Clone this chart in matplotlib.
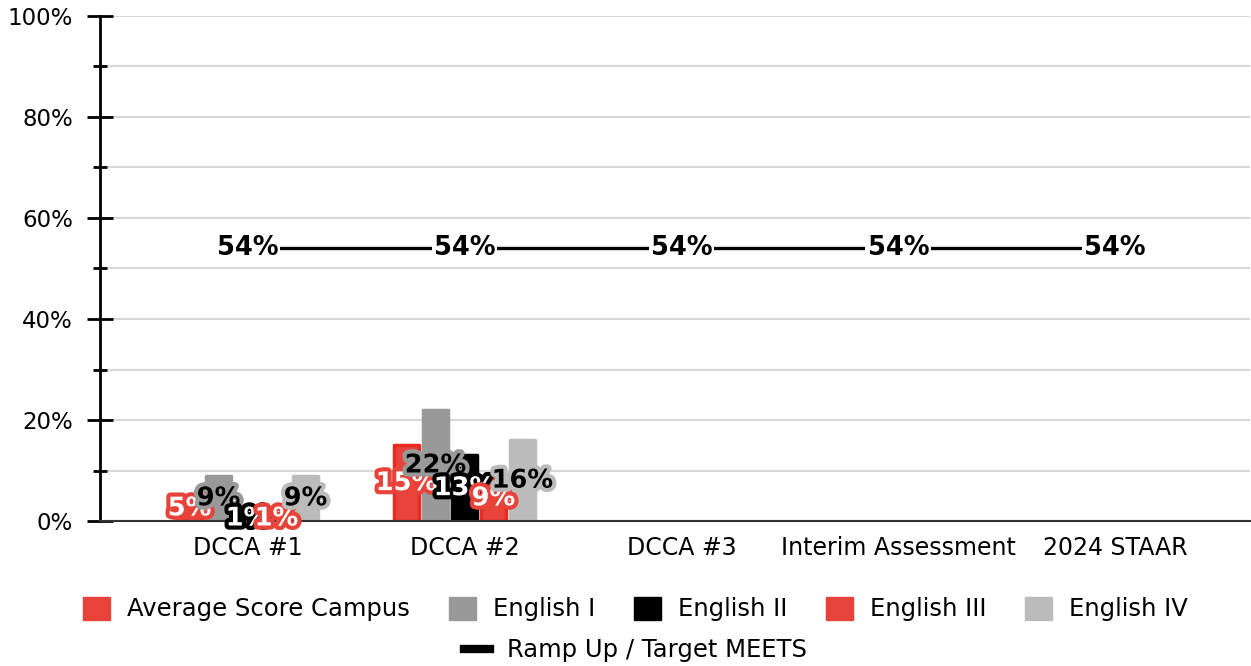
import numpy as np
import matplotlib
matplotlib.use("Agg")
import matplotlib.pyplot as plt
import matplotlib.patheffects as pe
from matplotlib.lines import Line2D
from matplotlib.patches import Patch

categories = ["DCCA #1", "DCCA #2", "DCCA #3", "Interim Assessment", "2024 STAAR"]

avg_campus = [5, 15, np.nan, np.nan, np.nan]
english_1 = [9, 22, np.nan, np.nan, np.nan]
english_2 = [1, 13, np.nan, np.nan, np.nan]
english_3 = [1, 9, np.nan, np.nan, np.nan]
english_4 = [9, 16, np.nan, np.nan, np.nan]
target_meets = [54, 54, 54, 54, 54]

series_names = ["Average Score Campus", "English I", "English II", "English III", "English IV"]
series_values = [avg_campus, english_1, english_2, english_3, english_4]

RED = "#e8433a"
GREY = "#999999"
BLACK = "#000000"
LIGHT = "#bbbbbb"
bar_colors = [RED, GREY, BLACK, RED, LIGHT]
edge_colors = ["#e82a20", GREY, BLACK, "#e82a20", LIGHT]
text_colors = ["white", "black", "white", "white", "black"]


def main():
    plt.rcParams["font.family"] = ["DejaVu Sans"]

    fig = plt.figure(figsize=(12.51, 6.66), dpi=100)
    ax = fig.add_axes([0.080, 0.2177, 0.919, 0.7583])

    x = np.arange(len(categories))
    step = 0.1336
    width = 0.112

    for i, (name, vals) in enumerate(zip(series_names, series_values)):
        pos = x + (i - 2) * step
        ax.bar(pos, vals, width, color=bar_colors[i], edgecolor=edge_colors[i],
               linewidth=2.5, joinstyle="round", zorder=2, label=name)
        for px, v in zip(pos, vals):
            if np.isnan(v):
                continue
            ax.text(px, v / 2, f"{v:.0f}%", ha="center", va="center",
                    fontsize=18.5, fontweight="bold", color=text_colors[i], zorder=5 + i,
                    path_effects=[pe.withStroke(linewidth=6, foreground=bar_colors[i])])

    # target line
    ax.plot(x, target_meets, color="black", linewidth=2.4, zorder=3)
    for px, v in zip(x, target_meets):
        ax.text(px, v, f"{v}%", ha="center", va="center", fontsize=18.5,
                fontweight="bold", color="black", zorder=4,
                bbox=dict(facecolor="white", edgecolor="none", pad=1.5))

    ax.set_xlim(-0.68, 4.62)
    ax.set_ylim(0, 100)
    ax.set_xticks(x)
    ax.set_xticklabels(categories, fontsize=17)
    ax.set_yticks(range(0, 101, 20))
    ax.set_yticks(range(10, 100, 20), minor=True)
    ax.set_yticklabels([f"{t}%" for t in range(0, 101, 20)], fontsize=16.5)

    ax.tick_params(axis="x", length=0, pad=11)
    ax.tick_params(axis="y", which="major", direction="inout", length=19, width=2, pad=10)
    ax.tick_params(axis="y", which="minor", direction="inout", length=10, width=2)

    ax.yaxis.grid(True, which="both", color="#d9d9d9", linewidth=1.5)
    ax.set_axisbelow(True)
    for s in ["top", "right"]:
        ax.spines[s].set_visible(False)
    ax.spines["left"].set_linewidth(2)
    ax.spines["bottom"].set_color("#333333")
    ax.spines["bottom"].set_linewidth(1.5)

    handles = [Patch(facecolor=c, edgecolor=c, linewidth=1, joinstyle="round") for c in bar_colors]
    fig.legend(handles, series_names, loc="center", bbox_to_anchor=(0.508, 0.0856), ncol=5,
               frameon=False, fontsize=17.5, handlelength=1.1, handleheight=1.1,
               handletextpad=0.7, columnspacing=1.6)
    fig.legend([Line2D([0], [0], color="black", linewidth=6)], ["Ramp Up / Target MEETS"],
               loc="center", bbox_to_anchor=(0.508, 0.024), frameon=False, fontsize=17.5,
               handlelength=1.1, handletextpad=0.7)

    fig.savefig("out.png", dpi=100)
    plt.close(fig)


if __name__ == "__main__":
    main()
